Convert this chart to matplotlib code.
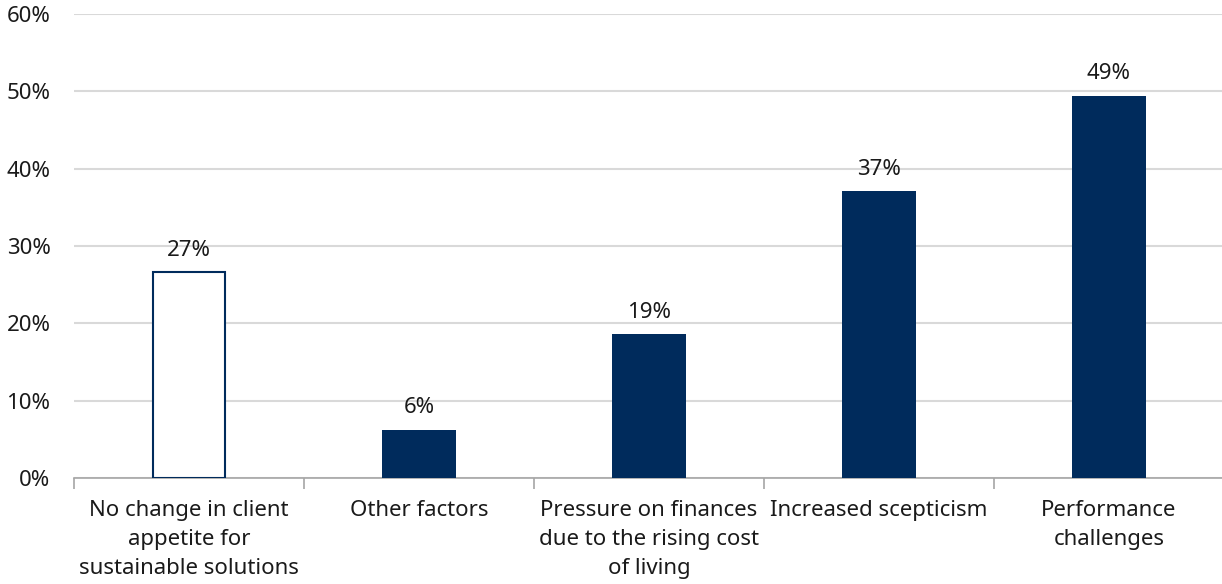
import numpy as np
import matplotlib.pyplot as plt
from matplotlib.ticker import FuncFormatter

plt.rcParams['font.family'] = ['Noto Sans', 'DejaVu Sans']

categories = ["No change in client\nappetite for\nsustainable solutions",
              "Other factors",
              "Pressure on finances\ndue to the rising cost\nof living",
              "Increased scepticism",
              "Performance\nchallenges"]
values = [26.6, 6.2, 18.6, 37.1, 49.4]
hollow = [True, False, False, False, False]

navy = '#002b5c'
fs = 16

fig = plt.figure(figsize=(12.22, 5.84), dpi=100)
ax = fig.add_axes([0.0606, 0.1815, 0.9410, 0.7945])

x = np.arange(len(values))
for xi, v, h in zip(x, values, hollow):
    if h:
        ax.bar(xi, v, width=0.31, color='white', edgecolor=navy, linewidth=1.5, zorder=3)
    else:
        ax.bar(xi, v, width=0.32, color=navy, edgecolor=navy, linewidth=0, zorder=3)
    ax.text(xi, v + 1.5, "%d%%" % round(v), ha='center', va='bottom',
            fontsize=fs, color='#1a1a1a')

ax.set_xlim(-0.5, len(values) - 0.5)
ax.set_ylim(0, 60)
ax.set_yticks(np.arange(0, 61, 10))
ax.yaxis.set_major_formatter(FuncFormatter(lambda v, p: "%d%%" % v))
ax.grid(axis='y', color='#d9d9d9', linewidth=1.5, zorder=0)

ax.set_xticks(x)
ax.set_xticklabels(categories, fontsize=fs, color='#1a1a1a', linespacing=1.5)
ax.set_xticks(np.arange(-0.5, len(values)), minor=True)
ax.tick_params(axis='x', which='major', length=0, pad=16)
ax.tick_params(axis='x', which='minor', length=8, width=1.2, color='#a6a6a6')
ax.tick_params(axis='y', length=0, labelsize=fs, labelcolor='#1a1a1a', pad=17)

for s in ['top', 'right', 'left']:
    ax.spines[s].set_visible(False)
ax.spines['bottom'].set_color('#a6a6a6')
ax.spines['bottom'].set_linewidth(1.2)

fig.savefig('out.png', dpi=100)
